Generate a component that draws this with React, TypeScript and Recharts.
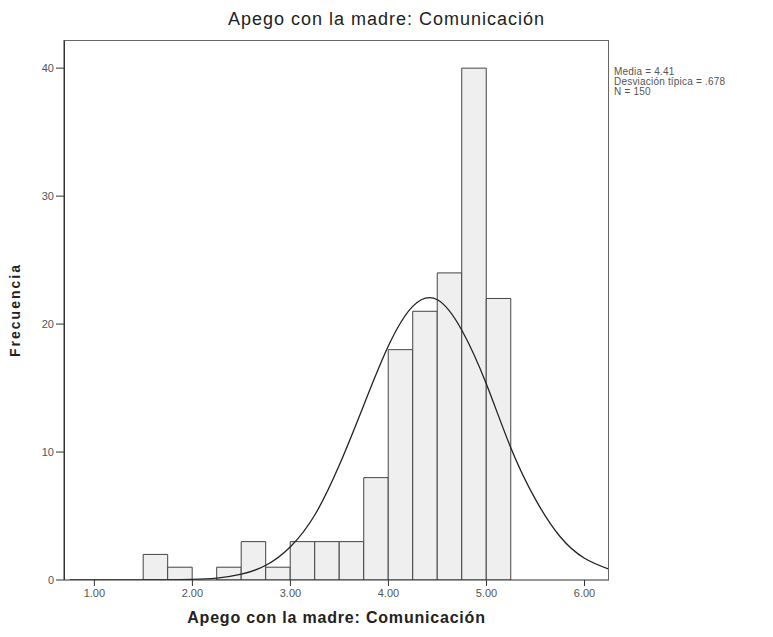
import React from "react";
import { ComposedChart, Bar, Line, XAxis, YAxis, Rectangle } from "recharts";

// Histogram bins (lower edge of each 0.25-wide bin) and their frequencies
const binStarts = [1.5, 1.75, 2.0, 2.25, 2.5, 2.75, 3.0, 3.25, 3.5, 3.75, 4.0, 4.25, 4.5, 4.75, 5.0];
const binCounts = [2, 1, 0, 1, 3, 1, 3, 3, 3, 8, 18, 21, 24, 40, 22];
const BIN_WIDTH = 0.25;

// Normal curve
const curveX = [0.75, 1.0, 1.25, 1.5, 1.75, 2.0, 2.25, 2.5, 2.75, 3.0, 3.25, 3.5, 3.75, 4.0, 4.25, 4.5, 4.75, 5.0, 5.25, 5.5, 5.75, 6.0, 6.25];
const curveY = [0, 0, 0, 0, 0.01, 0.05, 0.15, 0.45, 1.15, 2.6, 5.1, 9.0, 13.7, 18.3, 21.4, 21.9, 19.5, 15.3, 10.3, 6.3, 3.4, 1.7, 0.85];

const xTicks = [1, 2, 3, 4, 5, 6];
const yTicks = [0, 10, 20, 30, 40];

const title = "Apego con la madre: Comunicación";
const xLabel = "Apego con la madre: Comunicación";
const yLabel = "Frecuencia";
const statsLines = ["Media = 4.41", "Desviación típica = .678", "N = 150"];

const X_DOMAIN: [number, number] = [0.69, 6.25];
const Y_DOMAIN: [number, number] = [0, 42.2];

const W = 773;
const H = 637;
const X_AXIS_H = 30;
const Y_AXIS_W = 30;
const PLOT = { left: 64, top: 40, right: 609, bottom: 580 };
const M = {
  top: PLOT.top,
  right: W - PLOT.right,
  bottom: H - PLOT.bottom - X_AXIS_H,
  left: PLOT.left - Y_AXIS_W,
};
const plotW = PLOT.right - PLOT.left;
const barPx = (plotW / (X_DOMAIN[1] - X_DOMAIN[0])) * BIN_WIDTH;

const barData = binStarts.map((s, i) => ({ x: s + BIN_WIDTH / 2, count: binCounts[i] }));
const curveData = curveX.map((x, i) => ({ x, y: curveY[i] }));

const FONT = "'Liberation Sans', Arial, sans-serif";

// Bar centred on the scaled bin midpoint, spanning the full bin width
const BinShape = (props: any) => {
  const { x, width, y, height } = props;
  if (!height) return null;
  const cx = x + width / 2;
  return (
    <Rectangle
      x={cx - barPx / 2}
      y={y}
      width={barPx}
      height={height}
      fill="#efefef"
      stroke="#444"
      strokeWidth={1}
    />
  );
};

export default function App() {
  return (
    <div style={{ position: "absolute", left: 0, top: 0, width: W, height: H, background: "#fff", fontFamily: FONT }}>
      <ComposedChart width={W} height={H} data={barData} margin={M} barCategoryGap={0} barGap={0}>
        <XAxis
          dataKey="x"
          type="number"
          domain={X_DOMAIN}
          allowDataOverflow
          ticks={xTicks}
          tickFormatter={(v: number) => v.toFixed(2)}
          height={X_AXIS_H}
          tickSize={6}
          tickMargin={3}
          stroke="#333"
          tick={{ fill: "#555", fontSize: 11, fontFamily: FONT }}
        />
        <XAxis xAxisId="curve" dataKey="x" type="number" domain={X_DOMAIN} allowDataOverflow hide />
        <YAxis
          type="number"
          domain={Y_DOMAIN}
          allowDataOverflow
          ticks={yTicks}
          width={Y_AXIS_W}
          tickSize={8}
          tickMargin={2}
          stroke="#333"
          tick={{ fill: "#555", fontSize: 11, fontFamily: FONT }}
        />
        <Bar dataKey="count" barSize={barPx} shape={BinShape} isAnimationActive={false} />
        <Line
          xAxisId="curve"
          data={curveData}
          dataKey="y"
          type="natural"
          stroke="#222"
          strokeWidth={1.3}
          dot={false}
          activeDot={false}
          isAnimationActive={false}
        />
      </ComposedChart>

      <div
        style={{
          position: "absolute",
          left: PLOT.left,
          top: PLOT.top,
          width: plotW,
          height: PLOT.bottom - PLOT.top,
          boxSizing: "border-box",
          borderTop: "1px solid #666",
          borderLeft: "1px solid #333",
          borderRight: "1px solid #666",
          pointerEvents: "none",
        }}
      />

      <div
        style={{
          position: "absolute",
          left: 0,
          width: W,
          top: 9,
          textAlign: "center",
          fontSize: 18,
          letterSpacing: 1,
          color: "#222",
          lineHeight: "20px",
        }}
      >
        {title}
      </div>

      <div
        style={{
          position: "absolute",
          left: PLOT.left,
          width: plotW,
          top: 609,
          textAlign: "center",
          fontSize: 16,
          fontWeight: "bold",
          letterSpacing: 0.8,
          color: "#222",
          lineHeight: "18px",
        }}
      >
        {xLabel}
      </div>

      <div
        style={{
          position: "absolute",
          left: 15,
          top: 310,
          transform: "translate(-50%, -50%) rotate(-90deg)",
          fontSize: 14,
          fontWeight: "bold",
          letterSpacing: 2,
          color: "#222",
          whiteSpace: "nowrap",
          lineHeight: "16px",
        }}
      >
        {yLabel}
      </div>

      <div
        style={{
          position: "absolute",
          left: 614,
          top: 67,
          fontSize: 10,
          lineHeight: "10px",
          color: "#555",
          letterSpacing: 0.2,
          whiteSpace: "nowrap",
        }}
      >
        {statsLines.map((s) => (
          <div key={s}>{s}</div>
        ))}
      </div>
    </div>
  );
}
